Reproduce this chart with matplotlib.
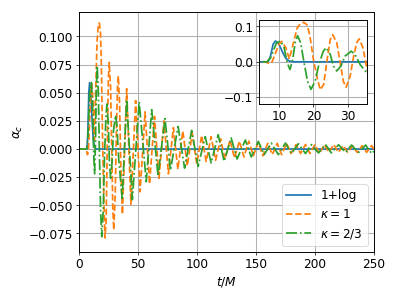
import matplotlib
matplotlib.use("Agg")
import matplotlib.pyplot as plt

# ---- data (t/M, alpha_c) ----
log_t = [0, 6.8, 7.5, 8.3, 9, 10, 11, 12, 13, 14, 250]
log_v = [0, 0, 0.015, 0.05, 0.059, 0.05, 0.028, 0.01, 0.002, 0, 0]

k1_t = [0, 6, 7.2, 8, 9, 10, 10.8, 12, 13, 14.2, 15.3, 16.2, 17.2, 18.2, 19, 20, 21.2, 22, 23,
        24, 24.9, 25.6, 26.8, 27.8, 28.7, 29.5, 30.7, 31.7, 32.6, 33.3, 34.4, 35.5,
        36.8, 40.4, 44, 48, 51.8, 56, 59.8, 64, 67.8, 72, 75.8, 80, 83.8, 88, 91.8, 96,
        99.8, 104, 107.8, 112, 115.8, 120, 123.8, 128, 131.8, 136, 139.8, 144, 147.8,
        152, 155.8, 160, 163.8, 168, 171.8, 176, 179.8, 184, 187.8, 192, 195.8, 200,
        203.8, 208, 211.8, 216, 219.8, 224, 227.8, 232, 235.8, 240, 243.8, 248, 250]
k1_v = [0, 0, -0.005, 0.0, 0.025, 0.05, 0.058, 0.04, 0.008, 0.054, 0.096, 0.108, 0.112, 0.104,
        0.073, 0.007, -0.05, -0.079, -0.064, 0.007, 0.063, 0.077, 0.054, -0.003, -0.055,
        -0.072, -0.04, 0.016, 0.054, 0.065, 0.04, -0.017,
        -0.058, 0.0535, -0.049, 0.043, -0.038, 0.033, -0.031, 0.029, -0.026, 0.025, -0.022,
        0.019, -0.018, 0.016, -0.015, 0.014, -0.013, 0.012, -0.011, 0.011, -0.010, 0.009,
        -0.009, 0.008, -0.008, 0.007, -0.007, 0.007, -0.006, 0.006, -0.006, 0.005, -0.005,
        0.005, -0.005, 0.005, -0.004, 0.004, -0.004, 0.004, -0.004, 0.004, -0.004, 0.004,
        -0.003, 0.004, -0.003, 0.003, -0.003, 0.003, -0.003, 0.003, -0.003, 0.003, 0.0]

k23_t = [0, 6.5, 7.5, 8.5, 9.3, 10.5, 11.5, 12.4, 13.2, 14, 14.7, 15.4, 16.3, 17.3, 18.3, 19.3,
         20.5, 21.7, 22.9, 23.7, 24.9, 25.8, 26.8, 28, 29.2, 31, 32.1, 33.6, 35.5,
         36.6, 40.4, 45.2, 51, 57, 61.6, 67, 72.9, 77.5, 84, 89.5, 95.5, 101, 107, 112, 118,
         123, 129, 134, 141, 146, 152, 157, 163, 169, 175, 180, 186, 192, 197, 203, 209,
         214, 220, 226, 231, 237, 243, 248, 250]
k23_v = [0, 0, 0.01, 0.035, 0.054, 0.059, 0.04, -0.003, -0.022, 0.007, 0.054, 0.074, 0.054,
         -0.003, -0.055, -0.078, -0.055, -0.003, 0.03, 0.04, 0.021, -0.012, -0.026, -0.012,
         0.016, 0.03, 0.021, -0.008, -0.031,
         -0.044, 0.044, -0.045, 0.042, -0.029, 0.035, -0.024, 0.027, -0.019, 0.02, -0.017,
         0.0165, -0.0154, 0.011, -0.0124, 0.0127, -0.011, 0.0098, -0.0089, 0.008, -0.007,
         0.0068, -0.005, 0.0053, -0.005, 0.0053, -0.004, 0.0047, -0.004, 0.004, -0.0035,
         0.004, -0.0035, 0.0038, -0.003, 0.0035, -0.003, 0.0035, -0.004, -0.002]

labels = ["1+log", r"$\kappa=1$", r"$\kappa=2/3$"]
colors = ["tab:blue", "tab:orange", "tab:green"]
styles = ["-", "--", "-."]
series = [(log_t, log_v), (k1_t, k1_v), (k23_t, k23_v)]

plt.rcParams["font.size"] = 14
plt.rcParams["axes.linewidth"] = 1.1
plt.rcParams["grid.linewidth"] = 1.2
DPI = 62.35
fig = plt.figure(figsize=(6.4, 4.8), dpi=DPI)
ax = fig.add_axes([0.198, 0.157, 0.739, 0.803])
for (t, v), lab, c, s in zip(series, labels, colors, styles):
    ax.plot(t, v, s, color=c, label=lab, lw=2.0)
ax.set_xlim(0, 250)
ax.set_ylim(-0.0915, 0.122)
ax.set_xticks([0, 50, 100, 150, 200, 250])
ax.set_yticks([-0.075, -0.05, -0.025, 0, 0.025, 0.05, 0.075, 0.1])
ax.grid(True)
ax.set_xlabel(r"$t/M$")
ax.set_ylabel(r"$\alpha_c$")
ax.legend(loc="lower right")

ins = fig.add_axes([0.650, 0.652, 0.269, 0.281])
for (t, v), c, s in zip(series, colors, styles):
    ins.plot(t, v, s, color=c, lw=2.0)
ins.set_xlim(4.3, 35.5)
ins.set_ylim(-0.119, 0.119)
ins.set_xticks([10, 20, 30])
ins.set_yticks([-0.1, 0.0, 0.1])
ins.grid(True)

fig.savefig("out.png", dpi=DPI)
